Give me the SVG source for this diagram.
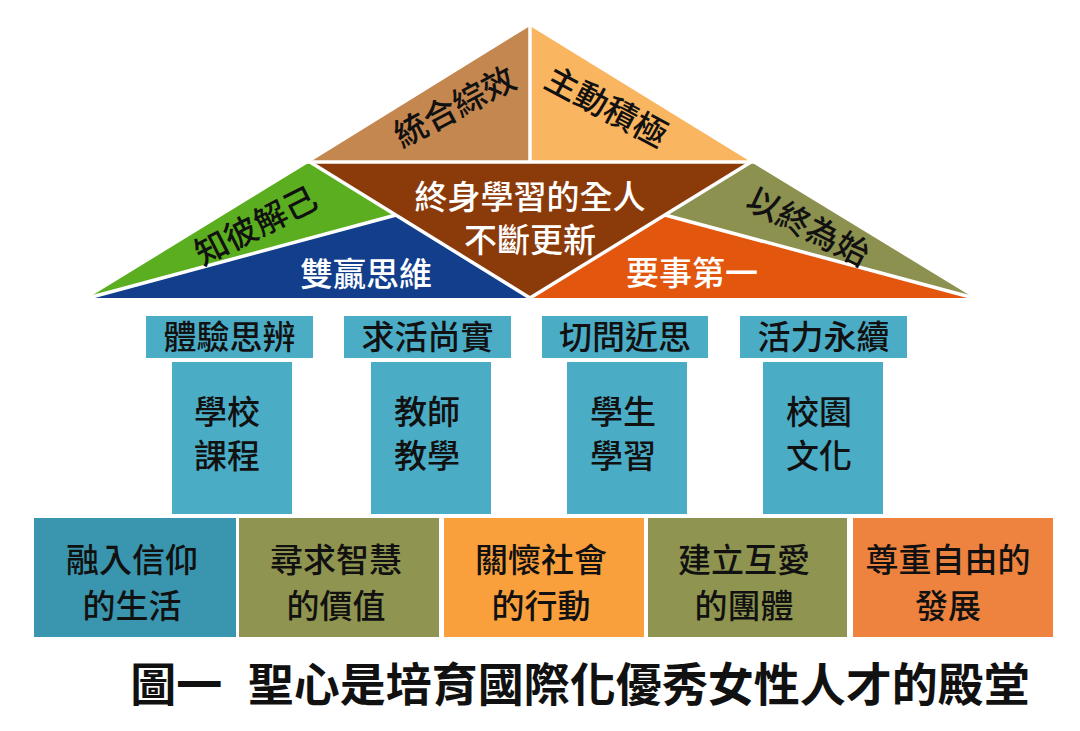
<svg xmlns="http://www.w3.org/2000/svg" width="1080" height="731" viewBox="0 0 1080 731">
<style>
text{font-family:"Liberation Sans","Noto Sans CJK TC","Noto Sans CJK SC",sans-serif;text-anchor:middle;dominant-baseline:central;font-weight:500;}
.gap{stroke:#fff;stroke-width:3.5;fill:none;}
.dk{fill:#111;font-size:33px;}
.wt{fill:#fff;font-size:33px;}
.lbl{fill:#4BACC6;}
.pil{fill:#4BACC6;}
.cap{fill:#111;font-size:46px;font-weight:bold;}
</style>
<rect width="1080" height="731" fill="#fff"/>
<g id="roof">
  <g id="roof-top-left"><polygon points="530,26 310,162 530,162" fill="#C58750"/></g>
  <g id="roof-top-right"><polygon points="530,26 530,162 751,162" fill="#FAB560"/></g>
  <g id="roof-center"><polygon points="310,162 751,162 530,298" fill="#8B3A0A"/></g>
  <g id="roof-green"><polygon points="310,162 396,215 88,298" fill="#5BAE1F"/></g>
  <g id="roof-blue"><polygon points="88,298 396,215 530,298" fill="#123E8C"/></g>
  <g id="roof-olive"><polygon points="751,162 665,215 974,298" fill="#8D9150"/></g>
  <g id="roof-orange"><polygon points="665,215 974,298 530,298" fill="#E2560E"/></g>
  <g id="roof-gaps">
    <line class="gap" x1="530" y1="20" x2="530" y2="162"/>
    <line class="gap" x1="300" y1="162" x2="760" y2="162"/>
    <line class="gap" x1="310" y1="162" x2="530" y2="298"/>
    <line class="gap" x1="751" y1="162" x2="530" y2="298"/>
    <line class="gap" x1="88" y1="298" x2="396" y2="215"/>
    <line class="gap" x1="974" y1="298" x2="665" y2="215"/>
  </g>
  <g id="roof-texts">
    <text class="dk" transform="translate(455,107) rotate(-28)">統合綜效</text>
    <text class="dk" transform="translate(606,107) rotate(28)">主動積極</text>
    <text class="wt" x="530" y="197">終身學習的全人</text>
    <text class="wt" x="530" y="240">不斷更新</text>
    <text class="dk" transform="translate(256,226) rotate(-27)">知彼解己</text>
    <text class="wt" x="366" y="274">雙贏思維</text>
    <text class="dk" transform="translate(808,227) rotate(27)">以終為始</text>
    <text class="wt" x="692" y="273">要事第一</text>
  </g>
</g>
<g id="label-1"><rect class="lbl" x="146" y="316" width="167" height="42"/><text class="dk" x="229.5" y="337">體驗思辨</text></g>
<g id="label-2"><rect class="lbl" x="344" y="316" width="167" height="42"/><text class="dk" x="427.5" y="337">求活尚實</text></g>
<g id="label-3"><rect class="lbl" x="542" y="316" width="166" height="42"/><text class="dk" x="625" y="337">切問近思</text></g>
<g id="label-4"><rect class="lbl" x="740" y="316" width="167" height="42"/><text class="dk" x="823.5" y="337">活力永續</text></g>
<g id="pillar-1"><rect class="pil" x="172" y="362" width="120" height="152"/><text class="dk" x="227" y="412">學校</text><text class="dk" x="227" y="456">課程</text></g>
<g id="pillar-2"><rect class="pil" x="371" y="362" width="120" height="152"/><text class="dk" x="427" y="412">教師</text><text class="dk" x="427" y="456">教學</text></g>
<g id="pillar-3"><rect class="pil" x="567" y="362" width="120" height="152"/><text class="dk" x="623" y="412">學生</text><text class="dk" x="623" y="456">學習</text></g>
<g id="pillar-4"><rect class="pil" x="763" y="362" width="120" height="152"/><text class="dk" x="819" y="412">校園</text><text class="dk" x="819" y="456">文化</text></g>
<g id="base-1"><rect x="34" y="518" width="202" height="119" fill="#3A95AE"/><text class="dk" x="132" y="560">融入信仰</text><text class="dk" x="132" y="606">的生活</text></g>
<g id="base-2"><rect x="239" y="518" width="200" height="119" fill="#8F9550"/><text class="dk" x="336" y="560">尋求智慧</text><text class="dk" x="336" y="606">的價值</text></g>
<g id="base-3"><rect x="444" y="518" width="200" height="119" fill="#F9A03C"/><text class="dk" x="541" y="560">關懷社會</text><text class="dk" x="541" y="606">的行動</text></g>
<g id="base-4"><rect x="648" y="518" width="199" height="119" fill="#8F9550"/><text class="dk" x="744" y="560">建立互愛</text><text class="dk" x="744" y="606">的團體</text></g>
<g id="base-5"><rect x="853" y="518" width="200" height="119" fill="#ED833E"/><text class="dk" x="948" y="560">尊重自由的</text><text class="dk" x="948" y="606">發展</text></g>
<g id="caption"><text class="cap" x="580" y="685" xml:space="preserve">圖一  聖心是培育國際化優秀女性人才的殿堂</text></g>
</svg>
